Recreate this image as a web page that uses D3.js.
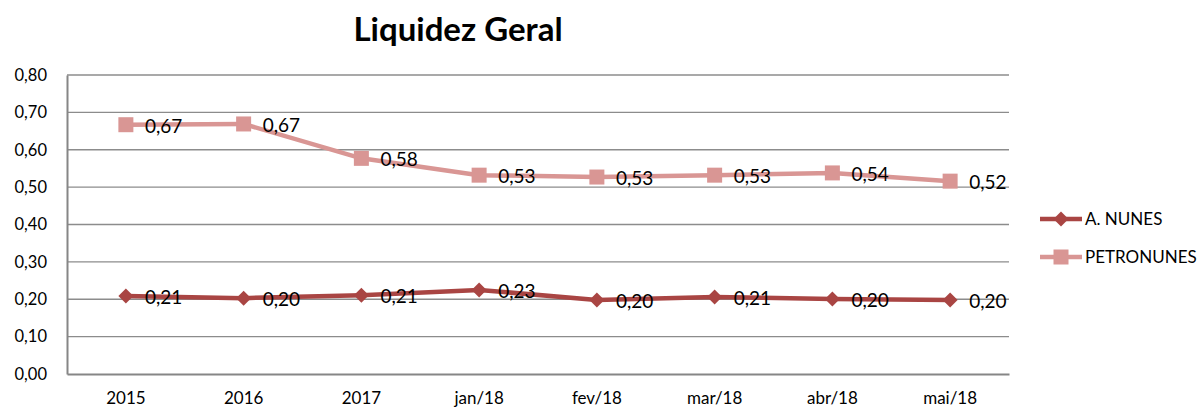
<!DOCTYPE html>
<html>
<head>
<meta charset="utf-8">
<script src="https://cdn.jsdelivr.net/npm/d3@7"></script>
<style>
  body { margin: 0; background: #fff; }
  svg { font-family: Lato, "Open Sans", sans-serif; }
</style>
</head>
<body>
<svg id="chart" width="1200" height="409"></svg>
<script>
const categories = ['2015', '2016', '2017', 'jan/18', 'fev/18', 'mar/18', 'abr/18', 'mai/18']
const aNunes = [0.209, 0.203, 0.211, 0.225, 0.198, 0.206, 0.201, 0.198]
const petronunes = [0.667, 0.669, 0.577, 0.532, 0.527, 0.532, 0.538, 0.516]
const yTicks = [0, 0.1, 0.2, 0.3, 0.4, 0.5, 0.6, 0.7, 0.8]

const series = [
  {name: 'A. NUNES', values: aNunes, color: '#a94543', marker: 'diamond'},
  {name: 'PETRONUNES', values: petronunes, color: '#d99694', marker: 'square'}
]

const margin = {top: 75, left: 67}
const width = 942
const height = 299
const fmt = v => d3.format('.2f')(v).replace('.', ',')

const svg = d3.select('#chart')

svg.append('text')
  .attr('x', 458).attr('y', 41)
  .attr('text-anchor', 'middle')
  .attr('font-size', 33).attr('font-weight', 'bold')
  .text('Liquidez Geral')

const g = svg.append('g').attr('transform', 'translate(' + margin.left + ',' + margin.top + ')')

const x = d3.scaleBand().domain(categories).range([0, width])
const y = d3.scaleLinear().domain([0, 0.8]).range([height, 0])
const cx = d => x(d) + x.bandwidth() / 2

// gridlines
g.selectAll('.grid').data(yTicks.slice(1)).enter().append('line')
  .attr('x1', 0).attr('x2', width)
  .attr('y1', d => y(d)).attr('y2', d => y(d))
  .attr('stroke', '#8c8c8c').attr('stroke-width', 1.3)

// y axis
const yAxis = g.append('g').call(d3.axisLeft(y).tickValues(yTicks).tickFormat(fmt).tickSize(0).tickPadding(20))
yAxis.select('.domain').attr('stroke', '#868686').attr('stroke-width', 2)
yAxis.selectAll('text').attr('font-size', 16.5).attr('fill', '#000').attr('font-family', 'Lato, sans-serif')

// x axis
const xAxis = g.append('g').attr('transform', 'translate(0,' + height + ')')
  .call(d3.axisBottom(x).tickSize(0).tickPadding(18))
xAxis.select('.domain').attr('stroke', '#868686').attr('stroke-width', 2)
xAxis.selectAll('text').attr('font-size', 17).attr('fill', '#000').attr('font-family', 'Lato, sans-serif')

const line = d3.line().x((d, i) => cx(categories[i])).y(d => y(d))

function drawMarker(sel, type, color) {
  if (type === 'diamond') {
    sel.append('path').attr('d', 'M0,-7.5L7.5,0L0,7.5L-7.5,0Z').attr('fill', color)
  } else {
    sel.append('rect').attr('x', -7.5).attr('y', -7.5).attr('width', 15).attr('height', 15).attr('fill', color)
  }
}

series.forEach(s => {
  g.append('path')
    .attr('d', line(s.values))
    .attr('fill', 'none')
    .attr('stroke', s.color)
    .attr('stroke-width', 4.5)
    .attr('stroke-linejoin', 'round')

  s.values.forEach((v, i) => {
    const m = g.append('g').attr('transform', 'translate(' + cx(categories[i]) + ',' + y(v) + ')')
    drawMarker(m, s.marker, s.color)
  })

  g.selectAll(null).data(s.values).enter().append('text')
    .attr('x', (d, i) => cx(categories[i]) + 19)
    .attr('y', d => y(d) + 8)
    .attr('font-size', 19)
    .text(d => fmt(d))
})

// legend
const legend = svg.append('g').attr('transform', 'translate(1040,219)')
series.forEach((s, i) => {
  const row = legend.append('g').attr('transform', 'translate(0,' + (i * 38) + ')')
  row.append('line').attr('x1', 0).attr('x2', 42).attr('stroke', s.color).attr('stroke-width', 4.5)
  const m = row.append('g').attr('transform', 'translate(21,0)')
  drawMarker(m, s.marker, s.color)
  row.append('text').attr('x', 45).attr('y', 6).attr('font-size', 17).text(s.name)
})
</script>
</body>
</html>
